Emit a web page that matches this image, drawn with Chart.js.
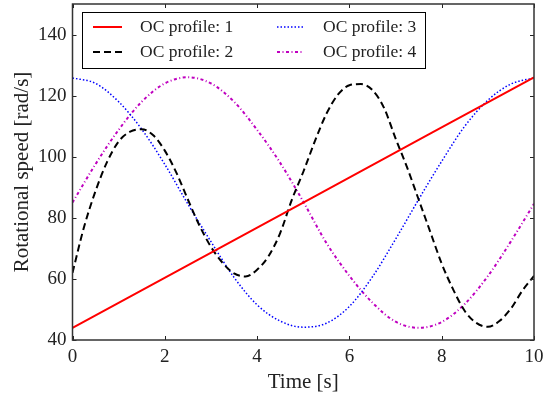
<!DOCTYPE html>
<html>
<head>
<meta charset="utf-8">
<script src="https://cdn.jsdelivr.net/npm/chart.js@4.4.1/dist/chart.umd.min.js"></script>
<style>
  html, body { margin: 0; padding: 0; background: #fff; }
  #wrap { width: 543px; height: 395px; }
</style>
</head>
<body>
<div id="wrap"><canvas id="grafico"></canvas></div>
<script>
// Datos
const etiquetas = ['OC profile: 1', 'OC profile: 2', 'OC profile: 3', 'OC profile: 4'];

const tiempoLineal = [0, 5, 10];
const tiempoFino = [0, 0.25, 0.5, 0.75, 1, 1.25, 1.5, 1.75, 2, 2.25, 2.5, 2.75, 3, 3.25, 3.5, 3.75,
  4, 4.25, 4.5, 4.75, 5, 5.25, 5.5, 5.75, 6, 6.25, 6.5, 6.75, 7, 7.25, 7.5, 7.75,
  8, 8.25, 8.5, 8.75, 9, 9.25, 9.5, 9.75, 10];
const tiempoGrueso = [0, 0.5, 1, 1.5, 2, 2.5, 3, 3.5, 4, 4.5, 5, 5.5, 6, 6.5, 7, 7.5, 8, 8.5, 9, 9.5, 10];

const perfil1 = [44, 85, 126];
const perfil2 = [62, 77, 88.8, 98.3, 105, 108.2, 109, 107, 102, 94.8, 86, 77.5, 70.5, 65.3, 61.8, 60.8,
  63, 67.5, 75, 85.8, 95, 105, 114, 120.3, 123.4, 123.8, 121.8, 116, 106, 96.5, 86, 75.5,
  65, 56.5, 49.5, 45.6, 44.3, 46.2, 50.3, 56.2, 61];
const perfil3 = [125.8, 124, 118, 109, 97.5, 84.5, 72.2, 60.5, 51.5, 46.2, 44.2, 45.5, 51, 60.7, 73, 86,
  98.5, 110, 118.5, 123.8, 125.8];
const perfil4 = [85, 97.6, 108.8, 118, 124, 126, 124, 118, 108.8, 98, 85.3, 71.8, 61, 52.2, 46, 44,
  45.9, 51.8, 60.9, 72.3, 84.6];

const ticksY = [40, 60, 80, 100, 120, 140];
const ticksX = [0, 2, 4, 6, 8, 10];

const fuente = '"Liberation Serif", "DejaVu Serif", serif';

function puntos(xs, ys) {
  return xs.map((x, i) => ({ x: x, y: ys[i] }));
}

// Marco con marcas hacia dentro y leyenda en dos columnas
const marcoPlugin = {
  id: 'marco',
  afterDatasetsDraw(chart) {
    const ctx = chart.ctx;
    const a = chart.chartArea;
    const sx = chart.scales.x, sy = chart.scales.y;
    ctx.save();
    ctx.strokeStyle = '#222';
    ctx.lineWidth = 1;
    ctx.beginPath();
    ticksX.forEach(v => {
      const px = Math.round(sx.getPixelForValue(v)) + 0.5;
      ctx.moveTo(px, a.bottom); ctx.lineTo(px, a.bottom - 4);
      ctx.moveTo(px, a.top); ctx.lineTo(px, a.top + 4);
    });
    ticksY.forEach(v => {
      const py = Math.round(sy.getPixelForValue(v)) + 0.5;
      ctx.moveTo(a.left, py); ctx.lineTo(a.left + 4, py);
      ctx.moveTo(a.right, py); ctx.lineTo(a.right - 4, py);
    });
    ctx.stroke();
    ctx.lineWidth = 1.5;
    ctx.strokeStyle = '#333';
    ctx.strokeRect(a.left, a.top, a.right - a.left, a.bottom - a.top);

    const lx = 82, ly = 12, lw = 343, lh = 56;
    ctx.fillStyle = '#fff';
    ctx.fillRect(lx, ly, lw, lh);
    ctx.lineWidth = 1;
    ctx.strokeStyle = '#000';
    ctx.strokeRect(lx + 0.5, ly + 0.5, lw, lh);
    const pos = [
      { x0: 93, x1: 122, tx: 140, y: 27 },
      { x0: 93, x1: 122, tx: 140, y: 52 },
      { x0: 277, x1: 303, tx: 323, y: 27 },
      { x0: 277, x1: 303, tx: 323, y: 52 }
    ];
    chart.data.datasets.forEach((ds, i) => {
      const p = pos[i];
      ctx.save();
      ctx.strokeStyle = ds.borderColor;
      ctx.lineWidth = ds.borderWidth;
      ctx.setLineDash(ds.borderDash || []);
      ctx.beginPath();
      ctx.moveTo(p.x0, p.y); ctx.lineTo(p.x1, p.y);
      ctx.stroke();
      ctx.restore();
      ctx.fillStyle = '#222';
      ctx.font = '17.5px ' + fuente;
      ctx.textBaseline = 'middle';
      ctx.textAlign = 'left';
      ctx.fillText(ds.label, p.tx, p.y);
    });
    ctx.restore();
  }
};

const ctx = document.getElementById('grafico').getContext('2d');
new Chart(ctx, {
  type: 'line',
  data: {
    datasets: [
      { label: etiquetas[0], data: puntos(tiempoLineal, perfil1), borderColor: '#ff0000', borderWidth: 2, borderDash: [] },
      { label: etiquetas[1], data: puntos(tiempoFino, perfil2), borderColor: '#000000', borderWidth: 2, borderDash: [7, 4] },
      { label: etiquetas[2], data: puntos(tiempoGrueso, perfil3), borderColor: '#0000ff', borderWidth: 1.5, borderDash: [1.5, 2] },
      { label: etiquetas[3], data: puntos(tiempoGrueso, perfil4), borderColor: '#bf00bf', borderWidth: 2, borderDash: [3, 2.5, 1, 2.5] }
    ]
  },
  options: {
    responsive: true,
    maintainAspectRatio: false,
    animation: false,
    layout: { padding: { top: 4, right: 9, left: 0, bottom: 0 } },
    elements: {
      point: { radius: 0 },
      line: { cubicInterpolationMode: 'monotone', fill: false }
    },
    plugins: {
      legend: { display: false },
      tooltip: { enabled: false }
    },
    scales: {
      x: {
        type: 'linear',
        min: 0, max: 10,
        afterBuildTicks: s => { s.ticks = ticksX.map(v => ({ value: v })); },
        afterFit: s => { s.height = 55; s.paddingLeft = 0; s.paddingRight = 0; },
        grid: { display: false, drawTicks: false },
        border: { display: false },
        ticks: { padding: 6, color: '#222', font: { family: fuente, size: 19 } },
        title: { display: true, text: 'Time [s]', color: '#222', padding: { top: 2, bottom: 0 }, font: { family: fuente, size: 21 } }
      },
      y: {
        min: 40, max: 150,
        afterBuildTicks: s => { s.ticks = ticksY.map(v => ({ value: v })); },
        afterFit: s => { s.width = 72.5; s.paddingTop = 0; s.paddingBottom = 0; },
        grid: { display: false, drawTicks: false },
        border: { display: false },
        ticks: { padding: 6, color: '#222', font: { family: fuente, size: 19 } },
        title: { display: true, text: 'Rotational speed [rad/s]', color: '#222', padding: { top: 10, bottom: 0 }, font: { family: fuente, size: 21 } }
      }
    }
  },
  plugins: [marcoPlugin]
});
</script>
</body>
</html>
